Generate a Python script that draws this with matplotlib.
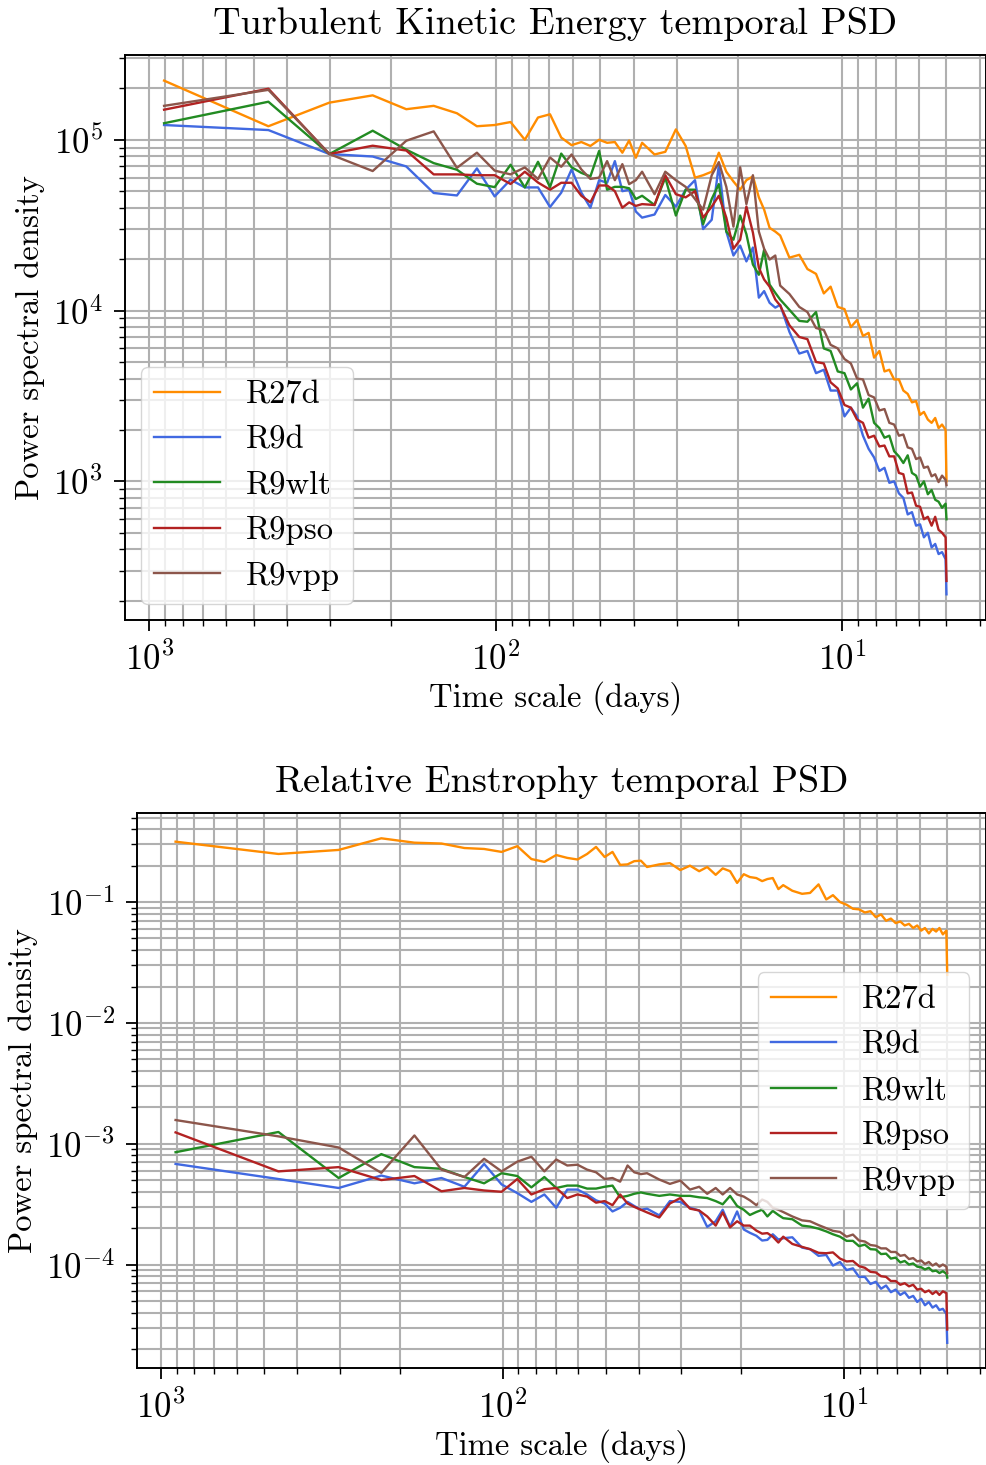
import matplotlib
matplotlib.use("Agg")
import matplotlib.pyplot as plt

plt.rcParams["font.family"] = "serif"
plt.rcParams["font.serif"] = ["cmr10", "DejaVu Serif"]
plt.rcParams["mathtext.fontset"] = "cm"
plt.rcParams["axes.formatter.use_mathtext"] = True
plt.rcParams["font.size"] = 23.5

# time scale of each PSD bin, in days
periods = [906, 453, 302, 226.5, 181.2, 151, 129.4, 113.3, 100.7, 90.6, 82.4, 75.5,
           69.7, 64.7, 60.4, 56.6, 53.3, 50.3, 47.7, 45.3, 43.1, 41.2, 39.4, 37.8,
           34.8, 32.4, 30.2, 28.3, 26.6, 25.2, 23.8, 22.7, 21.6, 20.6, 19.7, 18.9,
           18.1, 17.4, 16.8, 16.2, 15.6, 15.1,
           14.2, 13.3, 12.6, 11.9, 11.3, 10.8, 10.3, 9.85, 9.44, 9.06, 8.71, 8.39,
           8.09, 7.81, 7.55, 7.31, 7.08, 6.86, 6.66, 6.47, 6.29, 6.12, 5.96, 5.81,
           5.66, 5.52, 5.39, 5.27, 5.15, 5.03,
           5.0]

labels = ["R27d", "R9d", "R9wlt", "R9pso", "R9vpp"]
colors = ["darkorange", "royalblue", "forestgreen", "firebrick", "#8c564b"]

# turbulent kinetic energy PSD
tke_r27d = [2.22e5, 1.20e5, 1.65e5, 1.82e5, 1.51e5, 1.58e5, 1.43e5, 1.20e5, 1.22e5, 1.27e5, 1.0e5, 1.35e5,
            1.41e5, 1.03e5, 9.3e4, 9.7e4, 9.2e4, 1.0e5, 9.6e4, 9.7e4, 8.4e4, 9.9e4, 7.85e4, 9.6e4,
            8.2e4, 8.5e4, 1.15e5, 9.2e4, 6.0e4, 6.2e4, 6.5e4, 8.4e4, 6.5e4, 5.7e4, 5.1e4, 5.8e4,
            6.1e4, 4.6e4, 3.9e4, 3.05e4, 2.9e4, 2.75e4,
            2.04e4, 2.12e4, 1.75e4, 1.64e4, 1.26e4, 1.38e4, 1.05e4, 1.02e4, 8.0e3, 8.8e3, 7.1e3, 7.4e3,
            5.3e3, 5.8e3, 4.4e3, 4.5e3, 3.95e3, 3.95e3, 3.4e3, 3.25e3, 2.9e3, 2.95e3, 2.45e3, 2.55e3,
            2.3e3, 2.2e3, 2.35e3, 2.05e3, 2.15e3, 2.0e3,
            1.0e3]
tke_r9d = [1.22e5, 1.14e5, 8.25e4, 7.98e4, 6.98e4, 4.88e4, 4.72e4, 6.8e4, 4.66e4, 5.84e4, 5.26e4, 5.26e4,
           4.04e4, 4.9e4, 6.7e4, 4.9e4, 4.0e4, 5.8e4, 5.6e4, 7.5e4, 5.0e4, 5.1e4, 3.8e4, 3.5e4,
           3.65e4, 4.75e4, 4.06e4, 5.1e4, 5.8e4, 3.0e4, 3.4e4, 7.1e4, 2.9e4, 2.1e4, 2.4e4, 1.94e4,
           2.34e4, 1.19e4, 1.3e4, 1.11e4, 1.04e4, 1.08e4,
           7.5e3, 5.6e3, 5.8e3, 4.3e3, 4.5e3, 3.4e3, 3.4e3, 2.4e3, 2.7e3, 2.4e3, 1.85e3, 1.55e3,
           1.38e3, 1.15e3, 1.2e3, 980, 1.0e3, 850, 800, 640, 660, 550, 560, 470,
           500, 410, 430, 375, 385, 350,
           218]
tke_r9wlt = [1.25e5, 1.67e5, 8.25e4, 1.13e5, 8.75e4, 7.3e4, 6.68e4, 5.53e4, 5.28e4, 7.14e4, 5.26e4, 7.43e4,
             5.28e4, 8.3e4, 6.9e4, 6.4e4, 6.1e4, 8.6e4, 5.1e4, 5.3e4, 5.3e4, 5.2e4, 4.5e4, 4.7e4,
             4.15e4, 6.0e4, 3.6e4, 5.1e4, 5.1e4, 3.2e4, 4.5e4, 5.5e4, 2.9e4, 2.6e4, 3.6e4, 2.8e4,
             1.86e4, 1.62e4, 2.27e4, 1.42e4, 1.27e4, 1.16e4,
             1.01e4, 8.7e3, 8.6e3, 9.8e3, 6.0e3, 5.8e3, 4.4e3, 4.3e3, 3.45e3, 3.75e3, 2.7e3, 3.05e3,
             2.2e3, 2.05e3, 1.8e3, 1.85e3, 1.5e3, 1.4e3, 1.28e3, 1.42e3, 1.12e3, 1.08e3, 930, 1.0e3,
             840, 890, 780, 760, 700, 740,
             600]
tke_r9pso = [1.50e5, 1.99e5, 8.25e4, 9.23e4, 8.65e4, 6.27e4, 6.27e4, 6.2e4, 6.2e4, 5.51e4, 6.5e4, 5.62e4,
             5.1e4, 5.6e4, 5.6e4, 4.7e4, 4.3e4, 5.4e4, 5.4e4, 5.0e4, 4.0e4, 4.3e4, 4.1e4, 4.2e4,
             4.15e4, 6.2e4, 4.8e4, 4.6e4, 5.0e4, 3.5e4, 4.06e4, 4.7e4, 3.5e4, 2.3e4, 2.6e4, 4.06e4,
             2.86e4, 1.78e4, 1.52e4, 1.38e4, 1.16e4, 1.07e4,
             8.2e3, 7.0e3, 6.8e3, 5.0e3, 4.9e3, 3.8e3, 3.5e3, 2.8e3, 2.7e3, 2.3e3, 2.2e3, 1.8e3,
             1.85e3, 1.6e3, 1.62e3, 1.4e3, 1.4e3, 1.12e3, 1.1e3, 850, 860, 720, 710, 600,
             620, 550, 620, 520, 500, 470,
             261]
tke_r9vpp = [1.58e5, 1.96e5, 8.25e4, 6.56e4, 9.87e4, 1.12e5, 6.85e4, 8.4e4, 6.6e4, 6.27e4, 6.89e4, 5.89e4,
             7.88e4, 6.95e4, 8.2e4, 6.7e4, 5.9e4, 6.0e4, 7.5e4, 5.8e4, 7.2e4, 5.5e4, 5.8e4, 6.5e4,
             4.8e4, 6.5e4, 5.8e4, 5.3e4, 4.5e4, 3.9e4, 6.2e4, 7.4e4, 5.3e4, 3.1e4, 6.9e4, 4.2e4,
             6.2e4, 2.9e4, 2.3e4, 1.99e4, 2.1e4, 1.4e4,
             1.25e4, 1.05e4, 9.8e3, 7.9e3, 7.7e3, 6.3e3, 6.0e3, 5.2e3, 4.9e3, 4.0e3, 3.95e3, 3.2e3,
             3.1e3, 2.6e3, 2.65e3, 2.2e3, 2.15e3, 1.85e3, 1.88e3, 1.58e3, 1.55e3, 1.35e3, 1.38e3, 1.2e3,
             1.22e3, 1.07e3, 1.1e3, 990, 1.08e3, 1.02e3,
             950]

# relative enstrophy PSD
ens_r27d = [0.316, 0.25, 0.27, 0.337, 0.31, 0.305, 0.28, 0.275, 0.26, 0.29, 0.227, 0.215,
            0.245, 0.232, 0.225, 0.25, 0.286, 0.236, 0.26, 0.203, 0.205, 0.218, 0.22, 0.195,
            0.205, 0.21, 0.184, 0.2, 0.18, 0.195, 0.168, 0.19, 0.18, 0.144, 0.17, 0.161,
            0.158, 0.149, 0.155, 0.158, 0.128, 0.138,
            0.124, 0.117, 0.119, 0.14, 0.105, 0.114, 0.1, 0.095, 0.088, 0.087, 0.082, 0.084,
            0.075, 0.079, 0.07, 0.073, 0.067, 0.069, 0.064, 0.066, 0.061, 0.064, 0.058, 0.061,
            0.055, 0.06, 0.057, 0.061, 0.054, 0.058,
            0.025]
ens_r9d = [6.8e-4, 5.1e-4, 4.3e-4, 5.45e-4, 4.7e-4, 5.2e-4, 4.4e-4, 6.8e-4, 4.6e-4, 3.9e-4, 3.3e-4, 3.8e-4,
           2.95e-4, 4.17e-4, 4.17e-4, 3.8e-4, 3.4e-4, 3.2e-4, 2.75e-4, 2.95e-4, 3.3e-4, 3.05e-4, 2.84e-4, 2.9e-4,
           2.55e-4, 3.35e-4, 3.3e-4, 2.95e-4, 2.8e-4, 2.05e-4, 2.28e-4, 2.84e-4, 2.05e-4, 2.75e-4, 1.95e-4, 1.83e-4,
           1.73e-4, 1.58e-4, 1.6e-4, 1.78e-4, 1.61e-4, 1.65e-4,
           1.68e-4, 1.38e-4, 1.34e-4, 1.18e-4, 1.2e-4, 9.8e-5, 1.05e-4, 9.0e-5, 9.3e-5, 7.9e-5, 7.9e-5, 6.9e-5,
           7.2e-5, 6.3e-5, 6.7e-5, 5.9e-5, 6.2e-5, 5.6e-5, 5.9e-5, 5.3e-5, 5.5e-5, 4.9e-5, 5.2e-5, 4.6e-5,
           4.9e-5, 4.4e-5, 4.6e-5, 4.2e-5, 4.3e-5, 3.9e-5,
           2.25e-5]
ens_r9wlt = [8.5e-4, 1.25e-3, 5.2e-4, 8.2e-4, 6.4e-4, 6.2e-4, 5.3e-4, 4.7e-4, 5.7e-4, 5.4e-4, 4.35e-4, 5.3e-4,
             4.3e-4, 4.5e-4, 4.5e-4, 4.25e-4, 4.25e-4, 4.4e-4, 4.5e-4, 3.6e-4, 3.7e-4, 3.85e-4, 3.95e-4, 3.85e-4,
             3.7e-4, 3.8e-4, 3.7e-4, 3.7e-4, 3.6e-4, 3.55e-4, 3.35e-4, 3.15e-4, 3.7e-4, 3.05e-4, 2.84e-4, 2.57e-4,
             2.72e-4, 2.84e-4, 2.5e-4, 2.78e-4, 2.57e-4, 2.42e-4,
             2.37e-4, 2.1e-4, 2.06e-4, 1.98e-4, 1.88e-4, 1.78e-4, 1.7e-4, 1.57e-4, 1.57e-4, 1.42e-4, 1.46e-4, 1.34e-4,
             1.33e-4, 1.22e-4, 1.23e-4, 1.12e-4, 1.14e-4, 1.04e-4, 1.07e-4, 1.0e-4, 1.02e-4, 9.6e-5, 9.5e-5, 9.1e-5,
             9.4e-5, 8.8e-5, 8.9e-5, 8.5e-5, 8.8e-5, 8.4e-5,
             7.8e-5]
ens_r9pso = [1.24e-3, 5.9e-4, 6.4e-4, 5.0e-4, 5.4e-4, 4.04e-4, 4.3e-4, 4.1e-4, 4.0e-4, 5.1e-4, 3.8e-4, 4.2e-4,
             4.3e-4, 3.55e-4, 3.8e-4, 3.65e-4, 3.25e-4, 3.35e-4, 3.1e-4, 3.8e-4, 3.2e-4, 3.0e-4, 2.84e-4, 2.7e-4,
             2.45e-4, 3.2e-4, 3.55e-4, 2.9e-4, 2.8e-4, 2.5e-4, 2.1e-4, 2.7e-4, 2.03e-4, 2.28e-4, 2.1e-4, 2.1e-4,
             1.91e-4, 1.8e-4, 1.82e-4, 1.7e-4, 1.52e-4, 1.7e-4,
             1.48e-4, 1.4e-4, 1.34e-4, 1.25e-4, 1.24e-4, 1.26e-4, 1.12e-4, 1.06e-4, 1.07e-4, 9.7e-5, 9.4e-5, 8.7e-5,
             8.6e-5, 8.0e-5, 7.9e-5, 7.3e-5, 7.3e-5, 6.8e-5, 7.0e-5, 6.6e-5, 6.8e-5, 6.2e-5, 6.3e-5, 5.9e-5,
             6.1e-5, 5.7e-5, 6.0e-5, 5.6e-5, 6.0e-5, 5.8e-5,
             2.9e-5]
ens_r9vpp = [1.57e-3, 1.15e-3, 9.3e-4, 5.74e-4, 1.17e-3, 6.1e-4, 5.3e-4, 7.5e-4, 5.9e-4, 7.1e-4, 7.8e-4, 5.9e-4,
             7.4e-4, 6.6e-4, 6.7e-4, 6.1e-4, 5.8e-4, 5.1e-4, 5.2e-4, 4.85e-4, 6.6e-4, 5.8e-4, 5.6e-4, 5.7e-4,
             5.05e-4, 4.65e-4, 4.95e-4, 4.17e-4, 4.4e-4, 3.85e-4, 4.3e-4, 3.8e-4, 4.3e-4, 3.8e-4, 3.65e-4, 3.4e-4,
             3.1e-4, 3.45e-4, 3.3e-4, 2.95e-4, 2.84e-4, 2.72e-4,
             2.5e-4, 2.32e-4, 2.28e-4, 2.12e-4, 2.0e-4, 1.9e-4, 1.86e-4, 1.7e-4, 1.77e-4, 1.58e-4, 1.55e-4, 1.45e-4,
             1.43e-4, 1.36e-4, 1.36e-4, 1.27e-4, 1.27e-4, 1.18e-4, 1.2e-4, 1.11e-4, 1.13e-4, 1.06e-4, 1.08e-4, 1.01e-4,
             1.05e-4, 9.8e-5, 1.02e-4, 9.6e-5, 1.0e-4, 9.6e-5,
             8.5e-5]

tke = [tke_r27d, tke_r9d, tke_r9wlt, tke_r9pso, tke_r9vpp]
ens = [ens_r27d, ens_r9d, ens_r9wlt, ens_r9pso, ens_r9vpp]

fig = plt.figure(figsize=(9.87, 14.65), dpi=100)
ax1 = fig.add_axes([0.1266, 0.5768, 0.872, 0.3857])
ax2 = fig.add_axes([0.1388, 0.0662, 0.86, 0.3788])


def style(ax, title, legend_loc):
    ax.set_xscale("log")
    ax.set_yscale("log")
    ax.invert_xaxis()
    ax.grid(True, which="both", color="#b0b0b0", linewidth=1.5)
    ax.set_axisbelow(True)
    ax.set_title(title, fontsize=27.5, pad=15)
    ax.set_xlabel("Time scale (days)", labelpad=3)
    ax.set_ylabel("Power spectral density", labelpad=6)
    ax.tick_params(which="major", length=8, width=1.3, pad=8, labelsize=25)
    ax.tick_params(which="minor", length=4.5, width=1.0)
    for s in ax.spines.values():
        s.set_linewidth(1.4)
    ax.legend(loc=legend_loc)


for vals, lab, c in zip(tke, labels, colors):
    ax1.plot(periods, vals, color=c, lw=1.7, label=lab)
style(ax1, "Turbulent Kinetic Energy temporal PSD", "lower left")

for vals, lab, c in zip(ens, labels, colors):
    ax2.plot(periods, vals, color=c, lw=1.7, label=lab)
style(ax2, "Relative Enstrophy temporal PSD", "center right")

fig.savefig("out.png", dpi=100)
